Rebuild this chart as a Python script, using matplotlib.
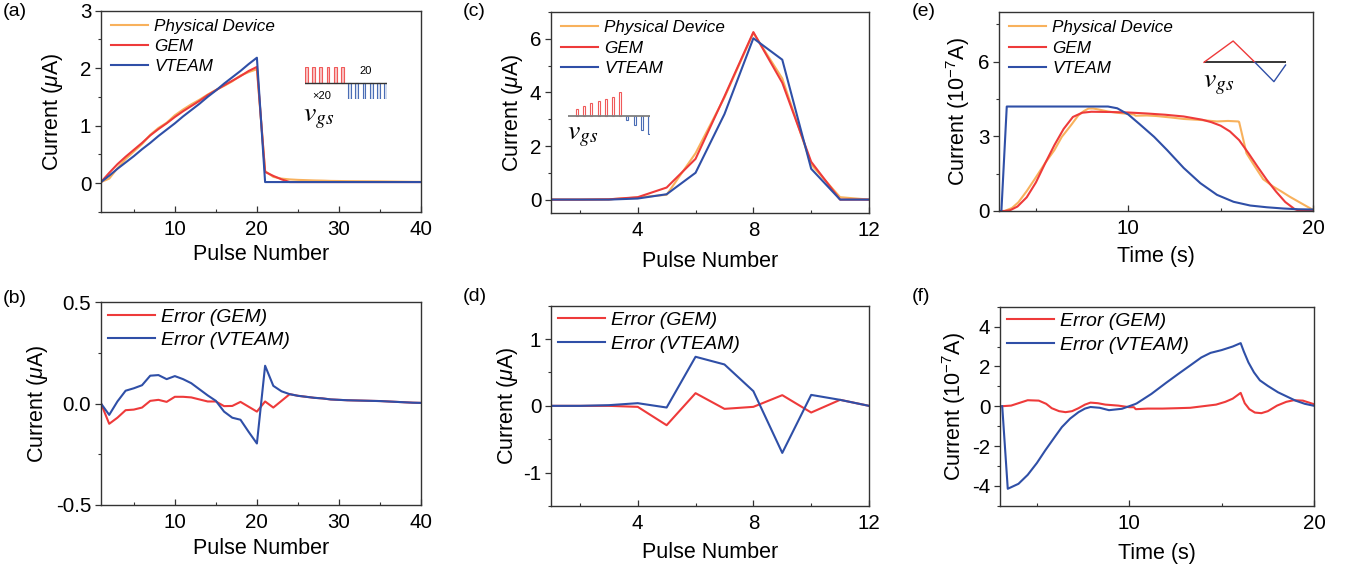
import numpy as np
import matplotlib
matplotlib.use('Agg')
import matplotlib.pyplot as plt
from matplotlib.ticker import MultipleLocator, FormatStrFormatter

plt.rcParams['font.family'] = ['Liberation Sans', 'DejaVu Sans']
plt.rcParams['mathtext.fontset'] = 'custom'
plt.rcParams['mathtext.rm'] = 'Liberation Sans'
plt.rcParams['mathtext.it'] = 'Liberation Sans:italic'
plt.rcParams['mathtext.bf'] = 'Liberation Sans:bold'
plt.rcParams['axes.unicode_minus'] = False

c_pd = '#F8B15C'
c_gem = '#EE3A3A'
c_vt = '#2F4FA7'

# ---- (a)/(b): 20 potentiation + 20 depression pulses ----
pulse_a = np.arange(1, 41)
pd_a = [0.02, 0.08, 0.26, 0.42, 0.55, 0.68, 0.84, 0.96, 1.05, 1.18,
        1.28, 1.37, 1.45, 1.54, 1.62, 1.69, 1.77, 1.87, 1.93, 1.98,
        0.21, 0.11, 0.08, 0.066, 0.058, 0.053, 0.048, 0.045, 0.04, 0.038,
        0.036, 0.035, 0.034, 0.033, 0.032, 0.03, 0.028, 0.026, 0.024, 0.023]
gem_a = [0.02, 0.18, 0.33, 0.46, 0.58, 0.70, 0.83, 0.94, 1.04, 1.15,
         1.25, 1.34, 1.43, 1.53, 1.615, 1.70, 1.78, 1.86, 1.95, 2.02,
         0.196, 0.127, 0.067, 0.02, 0.02, 0.02, 0.02, 0.02, 0.02, 0.02,
         0.02, 0.02, 0.02, 0.02, 0.02, 0.02, 0.02, 0.02, 0.02, 0.02]
vt_a = [0.02, 0.13, 0.25, 0.36, 0.47, 0.59, 0.70, 0.82, 0.93, 1.04,
        1.16, 1.27, 1.38, 1.50, 1.61, 1.73, 1.84, 1.95, 2.07, 2.18,
        0.02, 0.02, 0.02, 0.02, 0.02, 0.02, 0.02, 0.02, 0.02, 0.02,
        0.02, 0.02, 0.02, 0.02, 0.02, 0.02, 0.02, 0.02, 0.02, 0.02]
err_gem_b = [0, -0.1, -0.07, -0.033, -0.03, -0.02, 0.013, 0.018, 0.008, 0.033,
             0.033, 0.03, 0.02, 0.01, 0.01, -0.013, -0.012, 0.008, -0.016, -0.04,
             0.01, -0.02, 0.013, 0.046, 0.038, 0.033, 0.028, 0.025, 0.02, 0.018,
             0.016, 0.015, 0.014, 0.013, 0.012, 0.01, 0.008, 0.006, 0.004, 0.003]
err_vt_b = [0, -0.056, 0.01, 0.063, 0.075, 0.09, 0.137, 0.14, 0.12, 0.135,
            0.12, 0.10, 0.07, 0.04, 0.013, -0.04, -0.07, -0.08, -0.14, -0.197,
            0.186, 0.087, 0.06, 0.046, 0.038, 0.033, 0.028, 0.025, 0.02, 0.018,
            0.016, 0.015, 0.014, 0.013, 0.012, 0.01, 0.008, 0.006, 0.004, 0.003]

# ---- (c)/(d): graded pulses ----
pulse_c = np.arange(1, 13)
pd_c = [0, 0, 0.01, 0.08, 0.18, 1.73, 3.81, 6.22, 4.52, 1.31, 0.09, 0.0]
gem_c = [0, 0, 0.01, 0.09, 0.45, 1.52, 3.85, 6.25, 4.36, 1.41, 0.0, 0.0]
vt_c = [0, 0, 0, 0.04, 0.2, 1.0, 3.19, 6.02, 5.22, 1.15, 0.0, 0.0]
err_gem_d = [0, 0, 0.0, -0.015, -0.29, 0.19, -0.045, -0.015, 0.16, -0.1, 0.09, 0.0]
err_vt_d = [0, 0, 0.01, 0.04, -0.025, 0.735, 0.62, 0.22, -0.705, 0.164, 0.09, 0.0]

# ---- (e)/(f): triangular sweep ----
t_pd = [3.0, 3.3, 3.7, 4.05, 4.5, 4.95, 5.5, 6.0, 6.4, 6.9, 7.3, 7.6, 7.85, 8.1,
        8.4, 8.9, 9.4, 10.0, 10.3, 10.4, 11.0, 11.5, 12.3, 13.0, 13.9, 14.8, 15.4,
        15.95, 16.0, 16.4, 16.8, 17.3, 17.85, 18.3, 18.75, 19.2, 19.7, 20.0]
i_pd = [0, 0, 0.12, 0.35, 0.8, 1.3, 1.93, 2.45, 2.98, 3.45, 3.85, 4.02, 4.12, 4.12,
        4.08, 4.0, 3.95, 3.9, 3.88, 3.83, 3.84, 3.82, 3.76, 3.70, 3.66, 3.6, 3.62,
        3.6, 3.58, 2.32, 1.85, 1.28, 0.98, 0.78, 0.57, 0.38, 0.17, 0.05]
t_gem = [3.0, 3.3, 3.6, 4.0, 4.5, 5.0, 5.5, 6.0, 6.5, 7.0, 7.5, 8.0, 9.0, 10.0,
         11.0, 12.0, 13.0, 14.0, 14.5, 15.0, 15.5, 16.0, 16.5, 17.0, 17.5, 18.0,
         18.5, 19.0, 19.3, 20.0]
i_gem = [0, 0, 0.03, 0.18, 0.55, 1.15, 1.92, 2.65, 3.3, 3.78, 3.95, 3.99, 3.98, 3.96,
         3.92, 3.87, 3.8, 3.67, 3.57, 3.43, 3.2, 2.85, 2.33, 1.78, 1.25, 0.78,
         0.36, 0.08, 0.0, 0.0]
t_vt = [3.0, 3.13, 3.42, 5.0, 8.9, 9.4, 10.0, 10.6, 11.4, 12.1, 13.0, 13.9, 14.8,
        15.7, 16.6, 17.5, 18.4, 19.2, 20.0]
i_vt = [0, 0, 4.2, 4.2, 4.2, 4.13, 3.88, 3.5, 2.98, 2.45, 1.73, 1.12, 0.65,
        0.37, 0.22, 0.15, 0.1, 0.07, 0.06]
t_evt = [3.12, 3.42, 4.0, 4.5, 5.0, 5.45, 6.0, 6.35, 6.8, 7.25, 7.6, 7.9, 8.4, 8.9,
         9.6, 10.0, 10.3, 10.4, 11.2, 12.0, 12.65, 13.3, 13.9, 14.4, 15.0, 15.6,
         16.03, 16.2, 16.45, 16.75, 17.07, 17.5, 18.05, 18.5, 19.0, 19.5, 20.0]
e_vt = [0, -4.15, -3.9, -3.45, -2.85, -2.22, -1.5, -1.05, -0.62, -0.3, -0.12, -0.04,
        -0.08, -0.2, -0.13, 0.0, 0.1, 0.14, 0.62, 1.18, 1.62, 2.05, 2.45, 2.68,
        2.82, 3.0, 3.17, 2.75, 2.2, 1.7, 1.3, 1.02, 0.7, 0.5, 0.28, 0.12, 0.02]
t_egem = [3.12, 3.6, 4.0, 4.5, 5.1, 5.5, 5.8, 6.2, 6.55, 6.9, 7.25, 7.6, 7.9, 8.3,
          8.7, 9.4, 10.0, 10.25, 10.35, 11.0, 11.8, 12.6, 13.3, 14.0, 14.7, 15.2,
          15.6, 16.03, 16.25, 16.5, 16.8, 17.15, 17.5, 18.0, 18.5, 18.9, 19.4, 20.0]
e_gem = [0, 0.03, 0.15, 0.3, 0.28, 0.12, -0.1, -0.25, -0.3, -0.25, -0.1, 0.08, 0.18,
         0.15, 0.08, 0.03, -0.05, -0.05, -0.15, -0.12, -0.12, -0.1, -0.08, 0.0, 0.08,
         0.22, 0.38, 0.67, 0.15, -0.15, -0.32, -0.35, -0.25, 0.03, 0.22, 0.3, 0.28, 0.1]

# inset pulse schemes
pulses_a_pos = [1, 1, 1, 1, 1, 1]
pulses_a_neg = [-0.96, -0.96, -0.96, -0.96, -0.96, -0.96]
pulses_c_pos = [0.28, 0.42, 0.53, 0.6, 0.7, 0.78, 1.0]
pulses_c_neg = [-0.2, -0.38, -0.59, -0.76]
tri_t_pos = [0, 1.35, 2.36]
tri_v_pos = [0, 1, 0]
tri_t_neg = [2.36, 3.24, 3.78]
tri_v_neg = [0, -0.91, -0.13]

W, H = 1352, 576
fig = plt.figure(figsize=(W / 100, H / 100), dpi=100)


def px_axes(l, t, r, b):
    return fig.add_axes([l / W, 1 - b / H, (r - l) / W, (b - t) / H])


def style(ax, xlim, xmaj, xmin, ylim, ymaj, ymin):
    ax.set_xlim(xlim)
    ax.set_ylim(ylim)
    ax.xaxis.set_major_locator(MultipleLocator(xmaj))
    ax.xaxis.set_minor_locator(MultipleLocator(xmin))
    ax.yaxis.set_major_locator(MultipleLocator(ymaj))
    ax.yaxis.set_minor_locator(MultipleLocator(ymin))
    ax.tick_params(axis='x', which='both', direction='in', labelsize=14.8, pad=6)
    ax.tick_params(axis='y', which='both', direction='out', labelsize=14.8, pad=3)
    ax.tick_params(which='major', length=4, width=0.9, color='#333333')
    ax.tick_params(which='minor', length=2.5, width=0.8, color='#333333')
    for s in ax.spines.values():
        s.set_linewidth(1.0)
        s.set_color('#333333')


def top_legend(ax):
    ax.legend(loc='upper left', bbox_to_anchor=(0.02, 0.975), frameon=False,
              prop={'style': 'italic', 'size': 12.3}, handlelength=2.2,
              handletextpad=0.35, labelspacing=0.3, borderpad=0.2, borderaxespad=0)


def bottom_legend(ax):
    ax.legend(loc='upper left', bbox_to_anchor=(0.01, 0.99), frameon=False,
              prop={'style': 'italic', 'size': 14}, handlelength=2.4,
              handletextpad=0.3, labelspacing=0.3, borderpad=0.2, borderaxespad=0)


lw = 1.5

# (a)
ax = px_axes(101, 10.5, 421, 212)
ax.plot(pulse_a, pd_a, color=c_pd, lw=lw, label='Physical Device')
ax.plot(pulse_a, gem_a, color=c_gem, lw=lw, label='GEM')
ax.plot(pulse_a, vt_a, color=c_vt, lw=lw, label='VTEAM')
style(ax, (1, 40), 10, 5, (-0.5, 3), 1, 0.5)
ax.set_xlabel('Pulse Number', fontsize=15.5)
ax.set_ylabel(r'Current ($\mu$A)', fontsize=15.5)
ax.xaxis.set_label_coords(0.5, -0.16)
ax.yaxis.set_label_coords(-0.112, 0.5)
top_legend(ax)

# (b)
ax = px_axes(101, 302, 421, 505)
ax.plot(pulse_a, err_gem_b, color=c_gem, lw=lw, label='Error (GEM)')
ax.plot(pulse_a, err_vt_b, color=c_vt, lw=lw, label='Error (VTEAM)')
style(ax, (1, 40), 10, 5, (-0.5, 0.5), 0.5, 0.25)
ax.yaxis.set_major_formatter(FormatStrFormatter('%.1f'))
ax.set_xlabel('Pulse Number', fontsize=15.5)
ax.set_ylabel(r'Current ($\mu$A)', fontsize=15.5)
ax.xaxis.set_label_coords(0.5, -0.165)
ax.yaxis.set_label_coords(-0.159, 0.5)
bottom_legend(ax)

# (c)
ax = px_axes(551, 12, 869, 213)
ax.plot(pulse_c, pd_c, color=c_pd, lw=lw, label='Physical Device')
ax.plot(pulse_c, gem_c, color=c_gem, lw=lw, label='GEM')
ax.plot(pulse_c, vt_c, color=c_vt, lw=lw, label='VTEAM')
style(ax, (1, 12), 4, 2, (-0.5, 7), 2, 1)
ax.set_xlabel('Pulse Number', fontsize=15.5)
ax.set_ylabel(r'Current ($\mu$A)', fontsize=15.5)
ax.xaxis.set_label_coords(0.5, -0.19)
ax.yaxis.set_label_coords(-0.082, 0.5)
top_legend(ax)

# (d)
ax = px_axes(551, 305.7, 869, 506)
ax.plot(pulse_c, err_gem_d, color=c_gem, lw=lw, label='Error (GEM)')
ax.plot(pulse_c, err_vt_d, color=c_vt, lw=lw, label='Error (VTEAM)')
style(ax, (1, 12), 4, 2, (-1.5, 1.5), 1, 0.5)
ax.set_xlabel('Pulse Number', fontsize=15.5)
ax.set_ylabel(r'Current ($\mu$A)', fontsize=15.5)
ax.xaxis.set_label_coords(0.5, -0.178)
ax.yaxis.set_label_coords(-0.097, 0.5)
bottom_legend(ax)

# (e)
ax = px_axes(999, 12, 1313, 211)
ax.plot(t_pd, i_pd, color=c_pd, lw=lw, label='Physical Device')
ax.plot(t_gem, i_gem, color=c_gem, lw=lw, label='GEM')
ax.plot(t_vt, i_vt, color=c_vt, lw=lw, label='VTEAM')
style(ax, (3, 20), 10, 5, (0, 8), 3, 1.5)
ax.set_xlabel('Time (s)', fontsize=15.5)
ax.set_ylabel(r'Current (10$^{\mathrm{-7}}$A)', fontsize=15.5)
ax.xaxis.set_label_coords(0.5, -0.178)
ax.yaxis.set_label_coords(-0.086, 0.5)
top_legend(ax)

# (f)
ax = px_axes(1000, 306.7, 1314, 505.7)
ax.plot(t_egem, e_gem, color=c_gem, lw=lw, label='Error (GEM)')
ax.plot(t_evt, e_vt, color=c_vt, lw=lw, label='Error (VTEAM)')
style(ax, (3, 20), 10, 5, (-5, 5), 2, 1)
ax.set_xlabel('Time (s)', fontsize=15.5)
ax.set_ylabel(r'Current (10$^{\mathrm{-7}}$A)', fontsize=15.5)
ax.xaxis.set_label_coords(0.5, -0.185)
ax.yaxis.set_label_coords(-0.102, 0.5)
bottom_legend(ax)

# inset (a): identical pulses
ins = px_axes(305, 66.7, 387, 99.3)
ins.set_axis_off()
npos = len(pulses_a_pos)
ins.bar(np.arange(npos), pulses_a_pos, width=0.37, facecolor='#F9C4C4',
        edgecolor='#F05A5A', lw=0.8)
ins.bar(np.arange(npos, npos + len(pulses_a_neg)), pulses_a_neg, width=0.37,
        facecolor='#DCE3F2', edgecolor='#4A6DB5', lw=0.8)
ins.axhline(0, color='#333333', lw=1.0)
ins.set_xlim(-0.185, 11.185)
ins.set_ylim(-0.96, 1.0)
fig.text(366 / W, 1 - 71 / H, '20', fontsize=8, ha='center', va='center')
fig.text(322 / W, 1 - 96 / H, '\u00d720', fontsize=8, ha='center', va='center')
fig.text(319 / W, 1 - 118 / H, r'$v_{gs}$', fontsize=20, ha='center', va='center',
         math_fontfamily='stix')

# inset (c): graded pulses
ins = px_axes(568, 91.5, 650, 134.7)
ins.set_axis_off()
npos = len(pulses_c_pos)
ins.bar(np.arange(npos), pulses_c_pos, width=0.3, facecolor='white',
        edgecolor='#F05A5A', lw=0.8)
ins.bar(np.arange(npos, npos + len(pulses_c_neg)), pulses_c_neg, width=0.3,
        facecolor='white', edgecolor='#4A6DB5', lw=0.8)
ins.axhline(0, color='#808080', lw=1.3)
ins.set_xlim(-1.25, 10.14)
ins.set_ylim(-0.8, 1.02)
fig.text(583 / W, 1 - 136 / H, r'$v_{gs}$', fontsize=20, ha='center', va='center',
         math_fontfamily='stix')

# inset (e): triangular sweep
ins = px_axes(1204, 41, 1286, 82.5)
ins.set_axis_off()
ins.axhline(0, color='black', lw=1.1)
ins.plot(tri_t_pos, tri_v_pos, color=c_gem, lw=1.0, clip_on=False)
ins.plot(tri_t_neg, tri_v_neg, color=c_vt, lw=1.0, clip_on=False)
ins.set_xlim(0, 3.8)
ins.set_ylim(-0.95, 1.0)
fig.text(1219 / W, 1 - 84 / H, r'$v_{gs}$', fontsize=20, ha='center', va='center',
         math_fontfamily='stix')

# panel letters
for lab, x, y in [('(a)', 3, 3), ('(b)', 3, 290), ('(c)', 463, 3),
                  ('(d)', 463, 288), ('(e)', 912, 3), ('(f)', 912, 288)]:
    fig.text(x / W, 1 - y / H, lab, fontsize=14, ha='left', va='top')

fig.savefig('out.png', dpi=100)
